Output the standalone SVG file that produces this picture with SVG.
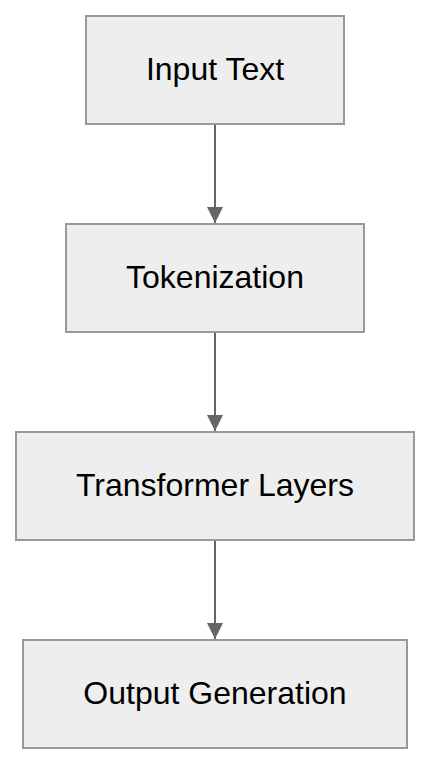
<svg xmlns="http://www.w3.org/2000/svg" width="430" height="764" viewBox="0 0 430 764">
<style>
.box{fill:#eeeeee;stroke:#999999;stroke-width:2}
.lbl{font-family:"Liberation Sans",Arial,Helvetica,sans-serif;font-size:32px;fill:#000;text-anchor:middle}
.edge{stroke:#666666;stroke-width:2;fill:none}
</style>
<defs>
<marker id="arr" markerWidth="16" markerHeight="16" viewBox="0 0 16 16" refX="16" refY="8" orient="auto" markerUnits="userSpaceOnUse">
<path d="M0,0 L16,8 L0,16 Z" fill="#666666"/>
</marker>
</defs>
<rect width="430" height="764" fill="#ffffff"/>
<g id="connectors">
<line class="edge" x1="215" y1="124" x2="215" y2="223" marker-end="url(#arr)"/>
<line class="edge" x1="215" y1="332" x2="215" y2="431" marker-end="url(#arr)"/>
<line class="edge" x1="215" y1="540" x2="215" y2="639" marker-end="url(#arr)"/>
</g>
<g id="input-text">
<rect class="box" x="86" y="16" width="258" height="108"/>
<text class="lbl" x="215" y="80">Input Text</text>
</g>
<g id="tokenization">
<rect class="box" x="66" y="224" width="298" height="108"/>
<text class="lbl" x="215" y="288">Tokenization</text>
</g>
<g id="transformer-layers">
<rect class="box" x="16" y="432" width="398" height="108"/>
<text class="lbl" x="215" y="496">Transformer Layers</text>
</g>
<g id="output-generation">
<rect class="box" x="23" y="640" width="384" height="108"/>
<text class="lbl" x="215" y="704">Output Generation</text>
</g>
</svg>
